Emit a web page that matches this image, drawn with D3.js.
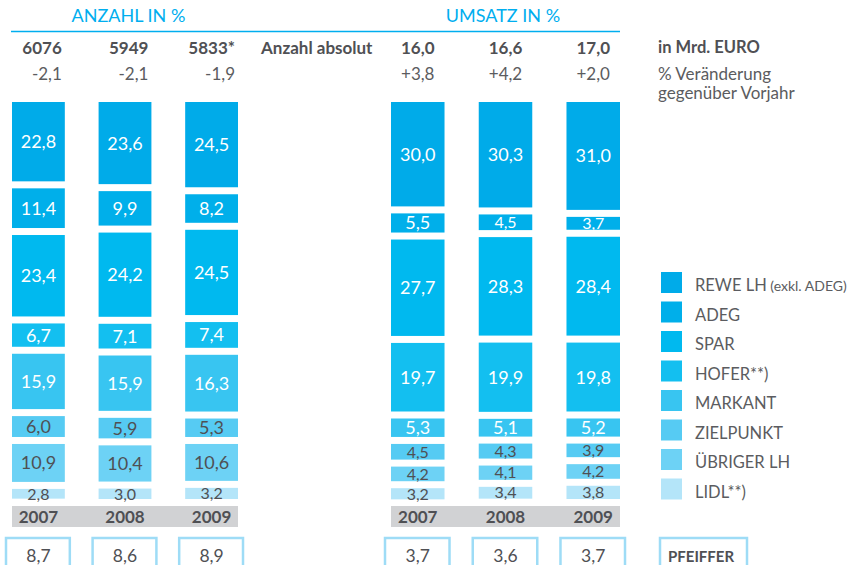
<!DOCTYPE html>
<html>
<head>
<meta charset="utf-8">
<script src="https://cdn.jsdelivr.net/npm/d3@7"></script>
<style>
body { margin:0; background:#fff; }
svg { display:block; font-family: Lato, "Open Sans", sans-serif; }
</style>
</head>
<body>
<div id="chart"></div>
<script>
// data
var years = ["2007", "2008", "2009"];
var chains = ["REWE LH", "ADEG", "SPAR", "HOFER**)", "MARKANT", "ZIELPUNKT", "ÜBRIGER LH", "LIDL**)"];
var chainColors = ["#00abe9", "#00afea", "#00b9ef", "#13bff0", "#38c5f1", "#56cbf3", "#6dd2f5", "#b4e5f9"];

// share of outlets (Anzahl) per year, in chain order
var anzahlShares = [
  [22.8, 11.4, 23.4, 6.7, 15.9, 6.0, 10.9, 2.8],
  [23.6, 9.9, 24.2, 7.1, 15.9, 5.9, 10.4, 3.0],
  [24.5, 8.2, 24.5, 7.4, 16.3, 5.3, 10.6, 3.2]
];
// share of turnover (Umsatz) per year
var umsatzShares = [
  [30.0, 5.5, 27.7, 19.7, 5.3, 4.5, 4.2, 3.2],
  [30.3, 4.5, 28.3, 19.9, 5.1, 4.3, 4.1, 3.4],
  [31.0, 3.7, 28.4, 19.8, 5.2, 3.9, 4.2, 3.8]
];
var anzahlAbs = ["6076", "5949", "5833*"];
var anzahlChange = ["-2,1", "-2,1", "-1,9"];
var umsatzAbs = ["16,0", "16,6", "17,0"];
var umsatzChange = ["+3,8", "+4,2", "+2,0"];
var pfeifferAnzahl = [8.7, 8.6, 8.9];
var pfeifferUmsatz = [3.7, 3.6, 3.7];

var W = 853, H = 565;
var blue = "#00aeef", dark = "#4f5054", mid = "#5b5c60";
var de = d3.formatLocale({decimal: ",", thousands: ".", grouping: [3], currency: ["", " €"]});
var fmt = de.format(".1f");

var svg = d3.select("#chart").append("svg").attr("width", W).attr("height", H);

// header
svg.append("line").attr("x1", 11).attr("x2", 620).attr("y1", 31.5).attr("y2", 31.5)
  .attr("stroke", blue).attr("stroke-width", 1.6);
svg.append("text").text("ANZAHL IN %").attr("x", 128.5).attr("y", 22)
  .attr("text-anchor", "middle").attr("font-size", 18).attr("fill", blue);
svg.append("text").text("UMSATZ IN %").attr("x", 503).attr("y", 22)
  .attr("text-anchor", "middle").attr("font-size", 18).attr("fill", blue);

svg.append("text").text("Anzahl absolut").attr("x", 261).attr("y", 54)
  .attr("font-size", 17).attr("font-weight", "bold").attr("fill", dark);
svg.append("text").text("in Mrd. EURO").attr("x", 658).attr("y", 53)
  .attr("font-size", 16.5).attr("font-weight", "bold").attr("fill", dark);
svg.append("text").text("% Veränderung").attr("x", 658).attr("y", 80)
  .attr("font-size", 17).attr("fill", mid);
svg.append("text").text("gegenüber Vorjahr").attr("x", 658).attr("y", 99)
  .attr("font-size", 17).attr("fill", mid);

var topY = 102, gap = 7;
var h = d3.scaleLinear().domain([0, 100]).range([0, 348]);

function drawPanel(x0, x1, shares, absVals, changes, pfeiffer, centered) {
  var x = d3.scaleBand().domain(years).range([x0, x1]).paddingInner(0.39).paddingOuter(0);
  var bw = x.bandwidth();
  var g = svg.append("g");

  years.forEach(function(yr, i) {
    var bx = x(yr);
    var tx = centered ? bx + bw / 2 : bx + bw - 3;
    var anchor = centered ? "middle" : "end";
    g.append("text").text(absVals[i]).attr("x", tx).attr("y", 54)
      .attr("text-anchor", anchor).attr("font-size", 17).attr("font-weight", "bold").attr("fill", dark);
    g.append("text").text(changes[i]).attr("x", tx).attr("y", 80)
      .attr("text-anchor", anchor).attr("font-size", 17).attr("fill", mid);

    var y = topY;
    shares[i].forEach(function(v, j) {
      var hh = h(v);
      g.append("rect").attr("x", bx).attr("y", y).attr("width", bw).attr("height", hh)
        .attr("fill", chainColors[j]);
      var fs = hh < 16 ? 16 : 18;
      g.append("text").text(fmt(v)).attr("x", bx + bw / 2).attr("y", y + hh / 2 + fs * 0.36)
        .attr("text-anchor", "middle").attr("font-size", fs)
        .attr("fill", j >= 5 ? dark : "#fff");
      y += hh + gap;
    });

    g.append("text").text(yr).attr("x", bx + bw / 2).attr("y", 523)
      .attr("text-anchor", "middle").attr("font-size", 17).attr("font-weight", "bold").attr("fill", dark);

    g.append("rect").attr("x", bx - 6).attr("y", 538).attr("width", bw + 11).attr("height", 40)
      .attr("fill", "#fff").attr("stroke", "#9edcf6").attr("stroke-width", 2.5);
    g.append("text").text(fmt(pfeiffer[i])).attr("x", bx + bw / 2).attr("y", 562)
      .attr("text-anchor", "middle").attr("font-size", 17.5).attr("fill", dark);
  });

  // year band behind labels
  g.insert("rect", ":first-child").attr("x", x0).attr("y", 506).attr("width", x1 - x0).attr("height", 21)
    .attr("fill", "#d1d2d4");
}

drawPanel(12, 238, anzahlShares, anzahlAbs, anzahlChange, pfeifferAnzahl, false);
drawPanel(391, 620, umsatzShares, umsatzAbs, umsatzChange, pfeifferUmsatz, true);

// legend
var lg = svg.append("g");
chains.forEach(function(c, j) {
  var ly = 272 + j * 29.5;
  lg.append("rect").attr("x", 661).attr("y", ly).attr("width", 21).attr("height", 21)
    .attr("fill", chainColors[j]);
  var t = lg.append("text").attr("x", 695).attr("y", ly + 19).attr("font-size", 16.5).attr("fill", mid).text(c);
  if (j === 0) t.append("tspan").attr("font-size", 14).text(" (exkl. ADEG)");
});

// PFEIFFER box
svg.append("rect").attr("x", 660).attr("y", 538).attr("width", 87).attr("height", 40)
  .attr("fill", "#fff").attr("stroke", "#9edcf6").attr("stroke-width", 2.5);
svg.append("text").text("PFEIFFER").attr("x", 668).attr("y", 562)
  .attr("font-size", 15).attr("font-weight", "bold").attr("fill", dark);
</script>
</body>
</html>
